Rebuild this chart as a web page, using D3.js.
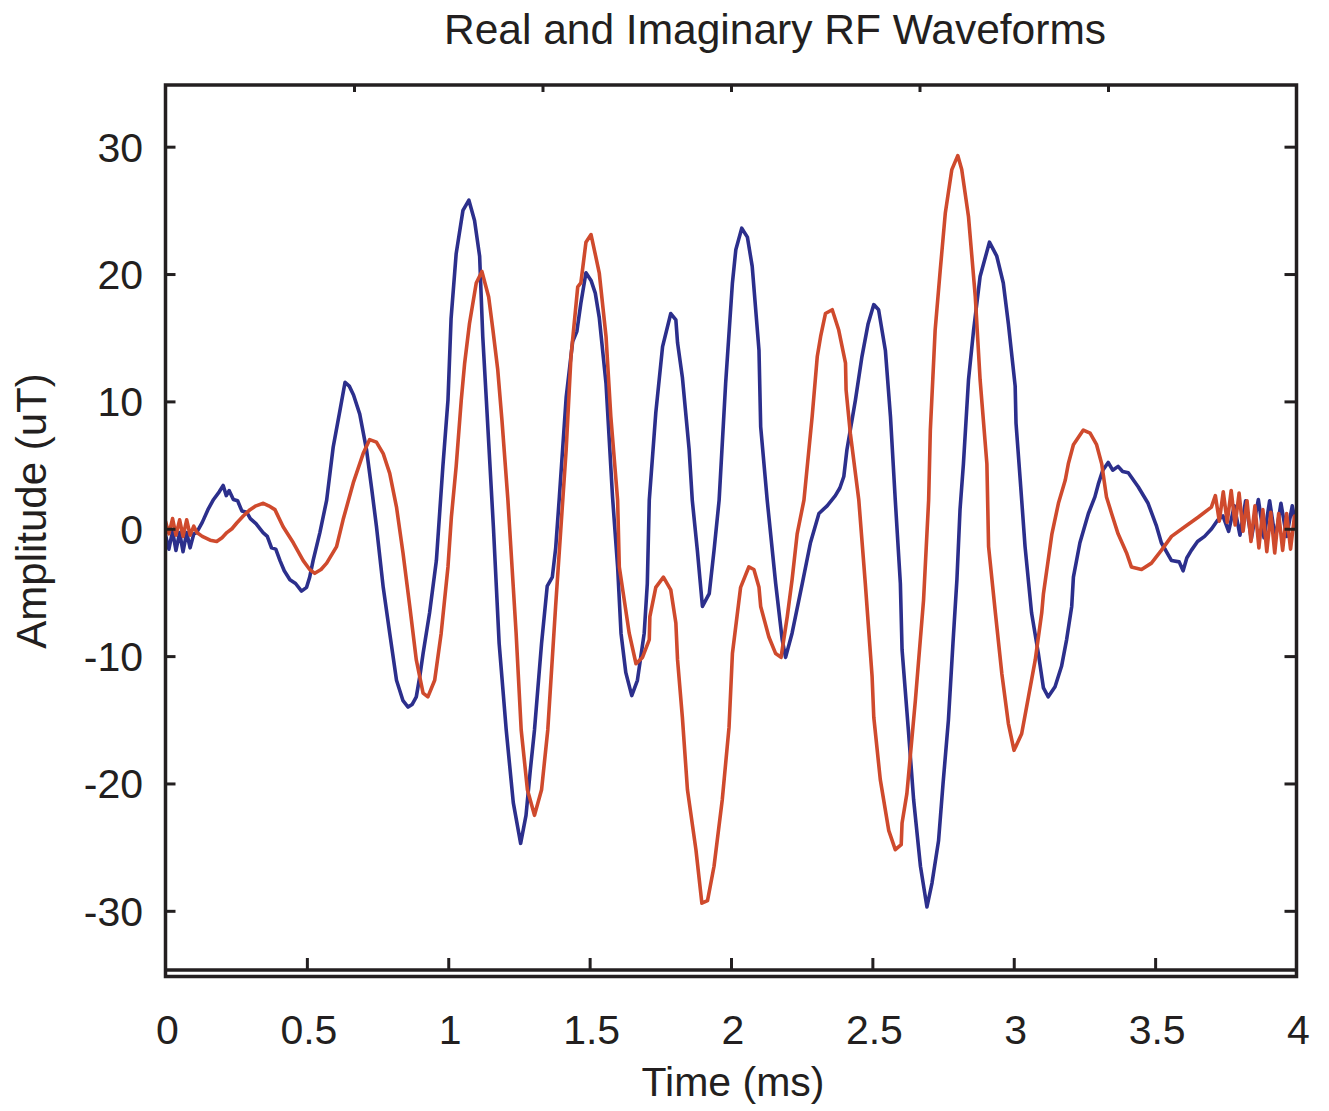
<!DOCTYPE html>
<html>
<head>
<meta charset="utf-8">
<script src="https://cdn.jsdelivr.net/npm/d3@7"></script>
<style>
	body { margin: 0; background: #fff; }
	text { font-family: "Liberation Sans", Arial, Helvetica, sans-serif; fill: #231f20; }
</style>
</head>
<body>
<div id="chart"></div>
<script>
// real part (blue)
var realTime = [0, 0.012, 0.025, 0.037, 0.05, 0.062, 0.075, 0.087, 0.1, 0.11, 0.13, 0.15, 0.17, 0.19, 0.204, 0.215, 0.225, 0.24, 0.255, 0.27, 0.287, 0.3, 0.32, 0.345, 0.36, 0.375, 0.39, 0.405, 0.42, 0.44, 0.46, 0.481, 0.499, 0.51, 0.522, 0.546, 0.57, 0.593, 0.617, 0.635, 0.65, 0.665, 0.687, 0.711, 0.73, 0.746, 0.77, 0.793, 0.817, 0.84, 0.858, 0.872, 0.887, 0.9, 0.911, 0.934, 0.958, 0.981, 0.999, 1.01, 1.028, 1.052, 1.073, 1.093, 1.111, 1.122, 1.135, 1.16, 1.18, 1.205, 1.23, 1.256, 1.275, 1.29, 1.305, 1.33, 1.35, 1.368, 1.38, 1.393, 1.417, 1.44, 1.455, 1.469, 1.487, 1.505, 1.52, 1.534, 1.558, 1.581, 1.599, 1.611, 1.628, 1.649, 1.669, 1.693, 1.704, 1.711, 1.734, 1.758, 1.787, 1.805, 1.811, 1.828, 1.852, 1.863, 1.881, 1.899, 1.923, 1.94, 1.958, 1.981, 2.005, 2.017, 2.038, 2.058, 2.075, 2.099, 2.105, 2.128, 2.158, 2.181, 2.193, 2.216, 2.252, 2.281, 2.311, 2.34, 2.369, 2.385, 2.399, 2.41, 2.44, 2.463, 2.485, 2.505, 2.522, 2.546, 2.564, 2.581, 2.599, 2.605, 2.628, 2.646, 2.67, 2.693, 2.711, 2.734, 2.75, 2.769, 2.785, 2.799, 2.81, 2.822, 2.84, 2.858, 2.881, 2.914, 2.94, 2.963, 2.981, 3.005, 3.008, 3.023, 3.04, 3.063, 3.087, 3.105, 3.122, 3.146, 3.169, 3.187, 3.205, 3.211, 3.234, 3.264, 3.287, 3.299, 3.315, 3.334, 3.35, 3.369, 3.385, 3.405, 3.44, 3.475, 3.505, 3.522, 3.558, 3.585, 3.599, 3.612, 3.628, 3.65, 3.675, 3.7, 3.722, 3.74, 3.76, 3.78, 3.8, 3.82, 3.84, 3.865, 3.885, 3.905, 3.925, 3.945, 3.965, 3.985, 4.0]
var realAmp = [-0.5, -1.6, -0.2, -1.7, -0.3, -1.8, -0.3, -1.5, -0.4, -0.3, 0.5, 1.5, 2.3, 2.9, 3.4, 2.6, 3.0, 2.3, 2.2, 1.4, 1.3, 0.8, 0.4, -0.3, -0.6, -1.5, -1.6, -2.5, -3.3, -4.0, -4.3, -4.9, -4.6, -3.8, -2.5, -0.3, 2.25, 6.4, 9.3, 11.5, 11.2, 10.5, 9.0, 6.2, 3.0, 0.2, -4.6, -8.2, -11.9, -13.5, -14.0, -13.8, -13.2, -11.5, -9.8, -6.6, -2.5, 4.9, 10.1, 16.5, 21.6, 25.0, 25.8, 24.2, 21.4, 15.1, 10, 0, -9, -15.8, -21.5, -24.7, -22.5, -19, -15.8, -9, -4.5, -3.8, -1.5, 2.5, 10.3, 14.7, 15.5, 17.7, 20.1, 19.5, 18.5, 16.6, 11.4, 2.5, -3.0, -8.2, -11.3, -13.1, -11.9, -8.2, -4.3, 2.25, 9.1, 14.3, 16.9, 16.4, 14.6, 11.9, 6.2, 2.25, -1.7, -6.1, -5.1, -1.7, 2.25, 11.4, 19.3, 21.9, 23.6, 22.9, 20.6, 14.0, 8.0, 2.25, -4.3, -8.7, -10.1, -8.2, -4.3, -1.1, 1.2, 1.8, 2.6, 3.2, 4.1, 6.2, 10.1, 13.5, 16.1, 17.6, 17.2, 14.0, 8.8, 2.25, -4.3, -9.5, -16.0, -21.3, -26.5, -29.7, -27.8, -24.5, -20, -15, -9, -4.0, 1.5, 5.1, 11.7, 15.6, 19.8, 22.5, 21.4, 19.3, 16.1, 11.2, 8.3, 3.8, -1.4, -6.6, -9.8, -12.5, -13.2, -12.4, -10.8, -8.7, -6.1, -3.8, -1.1, 1.2, 2.5, 3.5, 4.6, 5.2, 4.6, 4.9, 4.5, 4.4, 3.3, 2.0, 0.2, -1.1, -2.5, -2.6, -3.3, -2.3, -1.7, -1.0, -0.6, 0.0, 0.7, 1.0, -0.2, 1.8, -0.5, 2.2, -0.8, 2.3, -0.7, 2.2, -0.8, 2.0, -0.6, 1.8, 0.0]

// imaginary part (red)
var imagTime = [0, 0.012, 0.025, 0.037, 0.05, 0.062, 0.075, 0.087, 0.1, 0.111, 0.13, 0.158, 0.181, 0.2, 0.217, 0.235, 0.252, 0.275, 0.299, 0.32, 0.346, 0.365, 0.387, 0.416, 0.452, 0.487, 0.51, 0.528, 0.55, 0.57, 0.605, 0.628, 0.664, 0.699, 0.722, 0.746, 0.77, 0.793, 0.817, 0.84, 0.864, 0.887, 0.911, 0.928, 0.952, 0.975, 0.999, 1.011, 1.028, 1.046, 1.058, 1.075, 1.099, 1.119, 1.143, 1.158, 1.175, 1.19, 1.211, 1.24, 1.258, 1.28, 1.305, 1.33, 1.352, 1.38, 1.405, 1.417, 1.434, 1.458, 1.469, 1.487, 1.505, 1.534, 1.558, 1.575, 1.599, 1.605, 1.64, 1.664, 1.687, 1.711, 1.713, 1.734, 1.761, 1.787, 1.805, 1.811, 1.828, 1.846, 1.876, 1.897, 1.917, 1.94, 1.969, 1.993, 2.005, 2.034, 2.063, 2.081, 2.099, 2.105, 2.134, 2.158, 2.177, 2.199, 2.216, 2.234, 2.258, 2.287, 2.305, 2.317, 2.334, 2.358, 2.381, 2.405, 2.407, 2.422, 2.452, 2.475, 2.499, 2.505, 2.528, 2.558, 2.581, 2.602, 2.605, 2.622, 2.652, 2.681, 2.699, 2.705, 2.722, 2.74, 2.758, 2.781, 2.802, 2.816, 2.84, 2.864, 2.881, 2.905, 2.911, 2.935, 2.958, 2.981, 3.001, 3.028, 3.052, 3.076, 3.099, 3.105, 3.135, 3.158, 3.182, 3.193, 3.211, 3.246, 3.27, 3.293, 3.311, 3.328, 3.346, 3.369, 3.399, 3.416, 3.452, 3.487, 3.522, 3.558, 3.605, 3.652, 3.699, 3.713, 3.727, 3.741, 3.755, 3.769, 3.783, 3.797, 3.811, 3.825, 3.839, 3.853, 3.867, 3.881, 3.895, 3.909, 3.923, 3.937, 3.951, 3.965, 3.979, 3.993, 4.0]
var imagAmp = [0.6, -0.4, 0.8, -0.5, 0.7, -0.6, 0.7, -0.5, 0.2, -0.3, -0.6, -0.9, -1.0, -0.7, -0.3, 0.0, 0.45, 1.0, 1.5, 1.8, 2.0, 1.8, 1.5, 0.16, -1.1, -2.5, -3.2, -3.5, -3.2, -2.7, -1.4, 0.7, 3.6, 5.9, 7.0, 6.8, 5.9, 4.35, 1.7, -1.9, -6.1, -10.3, -12.9, -13.2, -11.9, -8.2, -3.0, 0.9, 4.9, 10.1, 13.0, 16.1, 19.3, 20.2, 18.2, 15.6, 12.5, 8.5, 2.25, -8.2, -15.8, -20.5, -22.5, -20.5, -15.8, -6, 2.25, 6.2, 13.5, 19.0, 19.3, 22.5, 23.1, 20.1, 15.1, 8.8, 2.25, -3.0, -8.2, -10.6, -10.1, -8.7, -6.9, -4.6, -3.8, -4.8, -7.4, -10.3, -14.8, -20.5, -25.2, -29.4, -29.2, -26.5, -21.3, -15.6, -9.8, -4.6, -3.0, -3.2, -4.6, -6.1, -8.5, -9.8, -10.1, -6.9, -4.0, -0.4, 2.25, 8.8, 13.5, 15.1, 16.9, 17.2, 15.6, 13.0, 10.9, 7.5, 2.25, -4.3, -11.6, -14.8, -19.7, -23.7, -25.2, -24.8, -23.1, -20.8, -13.5, -5.6, 2.25, 7.75, 15.6, 20.3, 24.8, 28.2, 29.3, 28.2, 24.5, 18.2, 11.7, 5.1, -1.4, -6.6, -11.4, -15.3, -17.4, -16.1, -13.2, -10.3, -6.6, -5.1, -0.4, 2.0, 3.8, 5.1, 6.6, 7.75, 7.5, 6.6, 5.1, 2.5, 1.2, -0.4, -1.9, -3.0, -3.2, -2.7, -1.7, -0.6, 0.16, 0.9, 1.7, 2.6, 0.6, 2.9, 0.5, 3.0, 0.3, 2.8, -0.2, 2.2, -1.0, 1.8, -1.5, 1.5, -1.8, 1.3, -1.9, 1.2, -1.7, 1.2, -1.6, 1.0, 0.2]

var xTicks = [0, 0.5, 1, 1.5, 2, 2.5, 3, 3.5, 4]
var xTopTicks = [2 / 3, 4 / 3, 2, 8 / 3, 10 / 3]
var yTicks = [-30, -20, -10, 0, 10, 20, 30]

var W = 1329, H = 1111
// plot box (note: "top" is a reserved window property, so use pTop etc.)
var pLeft = 165.5, pRight = 1296.5, pTop = 83, pBottom = 974.5
var ink = "#231f20"

var svg = d3.select("#chart").append("svg")
	.attr("width", W)
	.attr("height", H)

var x = d3.scaleLinear().domain([0, 4]).range([pLeft, pRight])
var y = d3.scaleLinear().domain([-35, 35]).range([pBottom, pTop])

svg.append("defs").append("clipPath")
	.attr("id", "plotClip")
	.append("rect")
	.attr("x", pLeft)
	.attr("y", pTop)
	.attr("width", pRight - pLeft)
	.attr("height", pBottom - pTop)

// curves
var line = d3.line()
	.x(function (d) { return x(d[0]) })
	.y(function (d) { return y(d[1]) })

var realData = realTime.map(function (t, i) { return [t, realAmp[i]] })
var imagData = imagTime.map(function (t, i) { return [t, imagAmp[i]] })

var curves = svg.append("g").attr("clip-path", "url(#plotClip)")
curves.append("path")
	.datum(realData)
	.attr("d", line)
	.attr("fill", "none")
	.attr("stroke", "#2c2f8c")
	.attr("stroke-width", 3.6)
	.attr("stroke-linejoin", "round")
curves.append("path")
	.datum(imagData)
	.attr("d", line)
	.attr("fill", "none")
	.attr("stroke", "#cf4a2d")
	.attr("stroke-width", 3.6)
	.attr("stroke-linejoin", "round")

// axes (ticks pointing inward, no domain path)
// plain hyphen for negatives, like the original figure
var fmt = function (d) { return String(d) }

var gl = svg.append("g")
	.attr("transform", "translate(" + pLeft + ",0)")
	.call(d3.axisRight(y).tickValues(yTicks).tickSize(10).tickFormat(""))
var gr = svg.append("g")
	.attr("transform", "translate(" + pRight + ",0)")
	.call(d3.axisLeft(y).tickValues(yTicks).tickSize(12).tickFormat(""))
var gb = svg.append("g")
	.attr("transform", "translate(0," + (pBottom - 4.5) + ")")
	.call(d3.axisTop(x).tickValues(xTicks.slice(1, -1)).tickSize(12).tickFormat(""))
var gt = svg.append("g")
	.attr("transform", "translate(0," + (pTop + 2) + ")")
	.call(d3.axisBottom(x).tickValues(xTopTicks).tickSize(7).tickFormat(""))

;[gl, gr, gb, gt].forEach(function (g) {
	g.select(".domain").remove()
	g.selectAll(".tick line").attr("stroke", ink).attr("stroke-width", 3)
})

// frame, with the doubled bottom edge
svg.append("rect")
	.attr("x", pLeft)
	.attr("y", pTop + 2)
	.attr("width", pRight - pLeft)
	.attr("height", pBottom - pTop)
	.attr("fill", "none")
	.attr("stroke", ink)
	.attr("stroke-width", 3.5)
svg.append("line")
	.attr("x1", pLeft)
	.attr("x2", pRight)
	.attr("y1", pBottom - 4.5)
	.attr("y2", pBottom - 4.5)
	.attr("stroke", ink)
	.attr("stroke-width", 3.5)

// tick labels
svg.append("g").selectAll("text")
	.data(yTicks)
	.enter().append("text")
	.attr("x", 143)
	.attr("y", function (d) { return y(d) + 15 })
	.attr("text-anchor", "end")
	.style("font-size", "41px")
	.text(fmt)

svg.append("g").selectAll("text")
	.data(xTicks)
	.enter().append("text")
	.attr("x", function (d) { return x(d) + 2 })
	.attr("y", 1044)
	.attr("text-anchor", "middle")
	.style("font-size", "41px")
	.text(fmt)

// titles
svg.append("text")
	.attr("x", 775)
	.attr("y", 44)
	.attr("text-anchor", "middle")
	.style("font-size", "42.5px")
	.text("Real and Imaginary RF Waveforms")

svg.append("text")
	.attr("x", 733)
	.attr("y", 1096)
	.attr("text-anchor", "middle")
	.style("font-size", "41px")
	.text("Time (ms)")

svg.append("text")
	.attr("transform", "translate(46,511) rotate(-90)")
	.attr("text-anchor", "middle")
	.style("font-size", "42px")
	.text("Amplitude (uT)")
</script>
</body>
</html>
